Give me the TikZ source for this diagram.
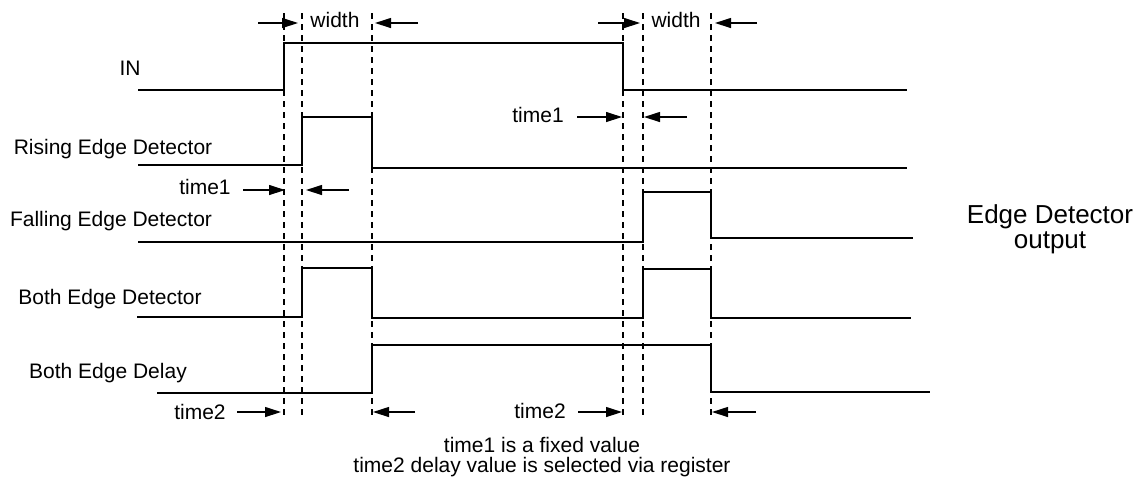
\documentclass[tikz,border=0pt]{standalone}
\usepackage{fontspec}
\setmainfont{Liberation Sans}
\usetikzlibrary{arrows.meta}

\begin{document}
\begin{tikzpicture}[
  x=0.5pt, y=-0.5pt,
  sig/.style={line width=1.2pt, line join=miter},
  guide/.style={line width=0.9pt, dash pattern=on 3pt off 2.5pt},
  lbl/.style={font=\fontsize{10.5}{10}\selectfont, inner sep=0pt, align=center},
  biglbl/.style={font=\fontsize{13}{12.5}\selectfont, inner sep=0pt, align=center},
  arrow/.style={-{Triangle[length=8pt,width=5pt]}, line width=0.6pt}
]
\useasboundingbox (0,0) rectangle (1143,479);

% signal names
\node[lbl] (in) at (130, 68) {IN};
\node[lbl] (rise) at (113, 149) {Rising Edge Detector};
\node[lbl] (fall) at (111, 221) {Falling Edge Detector};
\node[lbl] (both) at (110, 299) {Both Edge Detector};
\node[lbl] (delay) at (108, 373) {Both Edge Delay};
\node[biglbl] (out) at (1050, 229) {Edge Detector\\output};

% edge guides
\foreach \gx in {284,302,372,623,643,711}
  \draw[guide] (\gx,13) -- (\gx,415);

% waveforms
\draw[sig] (138,90) -- (284,90) -- (284,43) -- (623,43) -- (623,90) -- (907,90);
\draw[sig] (138,165) -- (302,165) -- (302,117) -- (372,117) -- (372,168) -- (907,168);
\draw[sig] (138,242) -- (643,242) -- (643,192) -- (711,192) -- (711,238) -- (913,238);
\draw[sig] (137,317) -- (302,317) -- (302,268) -- (372,268) -- (372,318) -- (643,318)
  -- (643,269) -- (711,269) -- (711,318) -- (911,318);
\draw[sig] (157,393) -- (372,393) -- (372,345) -- (711,345) -- (711,392) -- (930,392);

% measures
\node[lbl] (wd1) at (335, 20) {width};
\node[lbl] (wd2) at (676, 20) {width};
\node[lbl] (ta) at (205, 187) {time1};
\node[lbl] (tb) at (538, 115) {time1};
\node[lbl] (tc) at (200, 412) {time2};
\node[lbl] (td) at (540, 411) {time2};

\coordinate (wd1l) at (258,23);  \coordinate (wd1li) at (298,23);
\coordinate (wd1r) at (418,23);  \coordinate (wd1ri) at (375,23);
\coordinate (wd2l) at (598,23);  \coordinate (wd2li) at (640,23);
\coordinate (wd2r) at (757,23);  \coordinate (wd2ri) at (715,23);
\coordinate (tal) at (243,190);  \coordinate (tali) at (285,190);
\coordinate (tar) at (349,190);  \coordinate (tari) at (306,190);
\coordinate (tbl) at (577,117);  \coordinate (tbli) at (622,117);
\coordinate (tbr) at (687,117);  \coordinate (tbri) at (644,117);
\coordinate (tcl) at (237,412);  \coordinate (tcli) at (281,412);
\coordinate (tcr) at (415,412);  \coordinate (tcri) at (373,412);
\coordinate (tdl) at (578,412);  \coordinate (tdli) at (622,412);
\coordinate (tdr) at (756,412);  \coordinate (tdri) at (712,412);

\draw[arrow] (wd1l) -- (wd1li);
\draw[arrow] (wd1r) -- (wd1ri);
\draw[arrow] (wd2l) -- (wd2li);
\draw[arrow] (wd2r) -- (wd2ri);
\draw[arrow] (tal) -- (tali);
\draw[arrow] (tar) -- (tari);
\draw[arrow] (tbl) -- (tbli);
\draw[arrow] (tbr) -- (tbri);
\draw[arrow] (tcl) -- (tcli);
\draw[arrow] (tcr) -- (tcri);
\draw[arrow] (tdl) -- (tdli);
\draw[arrow] (tdr) -- (tdri);

% note
\node[lbl] (note) at (542, 457) {time1 is a fixed value\\time2 delay value is selected via register};

\end{tikzpicture}
\end{document}
